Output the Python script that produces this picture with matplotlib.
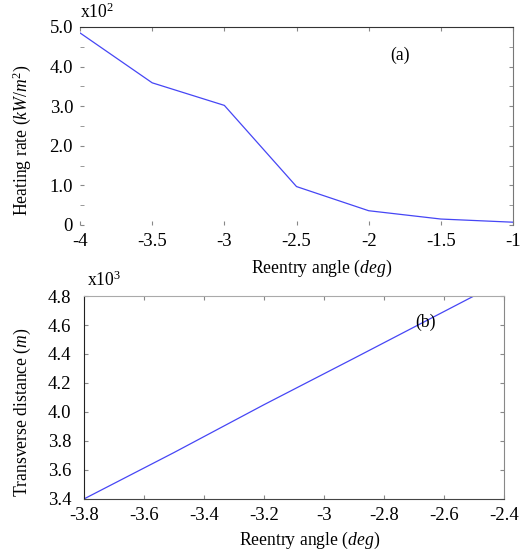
import matplotlib
matplotlib.use("Agg")
import matplotlib.pyplot as plt
import numpy as np
from matplotlib.ticker import MultipleLocator, FixedLocator, FuncFormatter

plt.rcParams['font.family'] = ['Liberation Serif', 'DejaVu Serif']
plt.rcParams['mathtext.fontset'] = 'custom'
plt.rcParams['mathtext.rm'] = 'Liberation Serif'
plt.rcParams['mathtext.it'] = 'Liberation Serif:italic'

# (a) heating rate vs reentry angle, values in units of 1e2 kW/m^2
angle_a = [-4.0, -3.5, -3.0, -2.5, -2.0, -1.5, -1.0]
heating_rate = [4.85, 3.59, 3.02, 0.97, 0.36, 0.15, 0.07]
yticks_a = [0, 1, 2, 3, 4, 5]
ylabels_a = ['0', '1.0', '2.0', '3.0', '4.0', '5.0']
xticks_a = [-4, -3.5, -3, -2.5, -2, -1.5, -1]
xlabels_a = ['-4', '-3.5', '-3', '-2.5', '-2', '-1.5', '-1']

# (b) transverse distance vs reentry angle, values in units of 1e3 m
angle_b = [-3.8, -3.5, -3.2, -2.9, -2.5]
transverse = [3.40, 3.72, 4.05, 4.37, 4.80]
xticks_b = [-3.8, -3.6, -3.4, -3.2, -3.0, -2.8, -2.6, -2.4]
xlabels_b = ['-3.8', '-3.6', '-3.4', '-3.2', '-3', '-2.8', '-2.6', '-2.4']
yticks_b = [3.4, 3.6, 3.8, 4.0, 4.2, 4.4, 4.6, 4.8]

fig = plt.figure(figsize=(5.31, 5.54), dpi=100)
ax1 = fig.add_axes([0.1507, 0.5939, 0.8154, 0.3574])
ax2 = fig.add_axes([0.158, 0.0993, 0.791, 0.3664])

line_color = '#4646f5'
fs_tick = 13.5
fs_lab = 12.7

# --- top panel
ax1.plot(angle_a, heating_rate, color=line_color, lw=0.9)
ax1.set_xlim(-4, -1)
ax1.set_ylim(0, 5)
ax1.set_xticks(xticks_a)
ax1.set_xticklabels(xlabels_a)
ax1.set_yticks(yticks_a)
ax1.set_yticklabels(ylabels_a)
ax1.yaxis.set_minor_locator(FixedLocator([0.5, 1.5, 2.5, 3.5, 4.5]))
for s in ['left', 'bottom']:
    ax1.spines[s].set_visible(False)
ax1.spines['top'].set_color('#333333')
ax1.spines['right'].set_color('#777777')
ax1.tick_params(axis='both', which='both', direction='in', length=3,
                color='#888888', top=True, right=True, labelsize=fs_tick)
ax1.tick_params(axis='y', pad=5)
ax1.tick_params(axis='x', pad=6)
ax1.set_xlabel(r'Reentry angle ($deg$)', fontsize=fs_lab)
ax1.xaxis.set_label_coords(0.557, -0.167)
ax1.set_ylabel(r'Heating rate ($kW/m^2$)', fontsize=fs_lab)
ax1.yaxis.set_label_coords(-0.108, 0.43)
ax1.text(0.0, 1.076, r'x10$^2$', transform=ax1.transAxes, fontsize=fs_lab,
         ha='left', va='center')
ax1.text(-1.78, 4.29, '(a)', fontsize=fs_lab, ha='center', va='center')

# --- bottom panel
ax2.plot(angle_b, transverse, color=line_color, lw=0.9)
ax2.set_xlim(-3.8, -2.4)
ax2.set_ylim(3.4, 4.8)
ax2.set_xticks(xticks_b)
ax2.set_xticklabels(xlabels_b)
ax2.set_yticks(yticks_b)
ax2.yaxis.set_major_formatter(FuncFormatter(lambda v, p: f'{v:.1f}'))
ax2.spines['left'].set_color('#222222')
ax2.spines['bottom'].set_color('#444444')
ax2.spines['top'].set_color('#aaaaaa')
ax2.spines['right'].set_color('#888888')
ax2.tick_params(axis='both', direction='in', length=3, color='#888888',
                top=True, right=True, labelsize=fs_tick)
ax2.tick_params(axis='y', pad=9)
ax2.tick_params(axis='x', pad=6)
ax2.set_xlabel(r'Reentry angle ($deg$)', fontsize=fs_lab)
ax2.xaxis.set_label_coords(0.538, -0.153)
ax2.set_ylabel(r'Transverse distance ($m$)', fontsize=fs_lab)
ax2.yaxis.set_label_coords(-0.121, 0.43)
ax2.text(0.007, 1.079, r'x10$^3$', transform=ax2.transAxes, fontsize=fs_lab,
         ha='left', va='center')
ax2.text(-2.66, 4.62, '(b)', fontsize=fs_lab, ha='center', va='center')

fig.savefig('out.png', dpi=100)
